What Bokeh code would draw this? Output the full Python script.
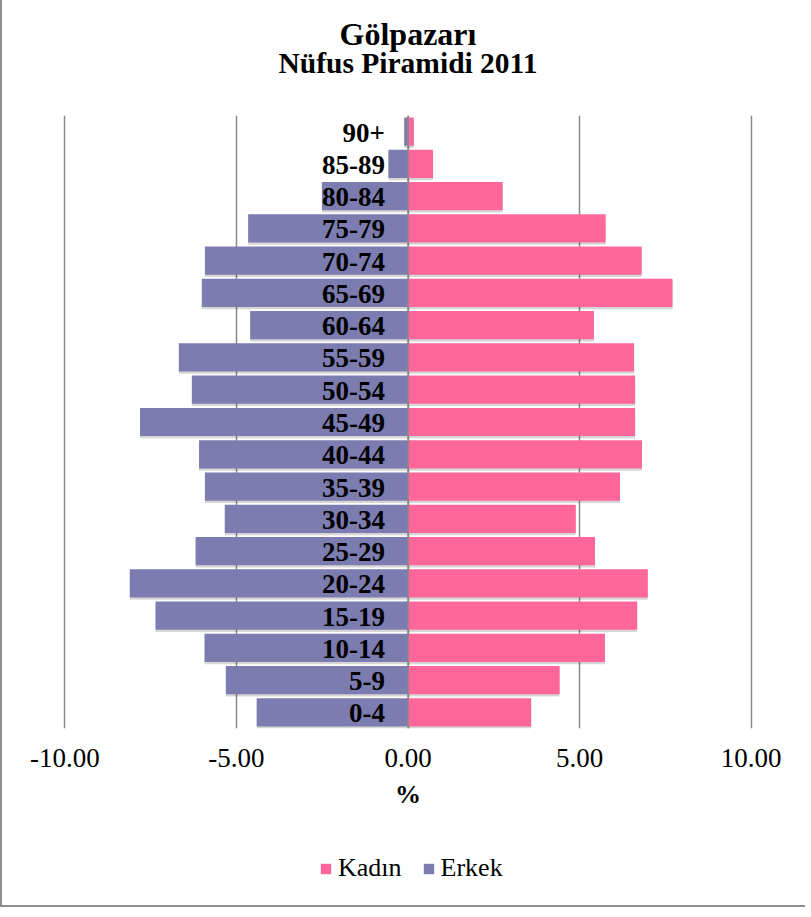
from bokeh.plotting import figure
from bokeh.layouts import column
from bokeh.models import (ColumnDataSource, FactorRange, FixedTicker, PrintfTickFormatter,
                          Span, Title, Legend, LegendItem)
from bokeh.core.properties import value
from bokeh.transform import dodge
from bokeh.embed import file_html
from bokeh.resources import INLINE

# ---- data ----
age_groups = ["0-4", "5-9", "10-14", "15-19", "20-24", "25-29", "30-34", "35-39",
              "40-44", "45-49", "50-54", "55-59", "60-64", "65-69", "70-74",
              "75-79", "80-84", "85-89", "90+"]
erkek = [-4.41, -5.31, -5.93, -7.36, -8.11, -6.19, -5.34, -5.92, -6.09, -7.81,
         -6.30, -6.68, -4.60, -6.01, -5.92, -4.66, -2.51, -0.57, -0.11]
kadin = [3.59, 4.42, 5.74, 6.68, 6.99, 5.45, 4.89, 6.18, 6.82, 6.62,
         6.62, 6.59, 5.42, 7.71, 6.81, 5.76, 2.76, 0.73, 0.17]
x_ticks = [-10, -5, 0, 5, 10]
series_names = ["Kadın", "Erkek"]

title_main = "Gölpazarı"
title_sub = "Nüfus Piramidi 2011"
x_label = "%"

PINK = "#FF6699"
PURPLE = "#7C7CB0"
GRID = "#888888"
FONT = "Liberation Serif"

src = ColumnDataSource(dict(cat=age_groups, erkek=erkek, kadin=kadin))

# ---------------- main pyramid ----------------
p = figure(width=803, height=816, y_range=FactorRange(*age_groups), x_range=(-10.1, 10.1),
           output_backend="svg", toolbar_location=None, title=None,
           min_border_left=59, min_border_right=51, min_border_top=115, min_border_bottom=88)
p.outline_line_color = None
p.background_fill_color = "white"
p.border_fill_color = "white"

# soft drop shadow under the bars
shadow_y = dodge("cat", -0.07, range=p.y_range)
p.hbar(y=shadow_y, left=0, right="erkek", height=0.875, source=src,
       fill_color="black", fill_alpha=0.16, line_color=None)
p.hbar(y=shadow_y, left=0, right="kadin", height=0.875, source=src,
       fill_color="black", fill_alpha=0.16, line_color=None)

r_e = p.hbar(y="cat", left=0, right="erkek", height=0.875, source=src,
             fill_color=PURPLE, line_color=None)
r_k = p.hbar(y="cat", left=0, right="kadin", height=0.875, source=src,
             fill_color=PINK, line_color=None)

p.text(x=0, y="cat", text="cat", source=src, x_offset=-23, y_offset=1,
       text_align="right", text_baseline="middle",
       text_font=value(FONT), text_font_style="bold", text_font_size="27px",
       text_color="black")

p.add_layout(Span(location=0, dimension="height", line_color=GRID, line_width=1.5,
                  level="overlay"))

p.yaxis.visible = False
p.ygrid.grid_line_color = None
p.xgrid.ticker = FixedTicker(ticks=x_ticks)
p.xgrid.grid_line_color = GRID
p.xgrid.grid_line_width = 1.5

xa = p.xaxis[0]
xa.ticker = FixedTicker(ticks=x_ticks)
xa.formatter = PrintfTickFormatter(format="%.2f")
xa.axis_line_color = None
xa.major_tick_line_color = None
xa.minor_tick_line_color = None
xa.major_label_text_font = FONT
xa.major_label_text_font_size = "27px"
xa.major_label_text_color = "black"
xa.major_label_standoff = 14
xa.axis_label = x_label
xa.axis_label_text_font = FONT
xa.axis_label_text_font_size = "26px"
xa.axis_label_text_font_style = "bold"
xa.axis_label_text_color = "black"
xa.axis_label_standoff = 10

# titles: first added sits nearest the plot; a blank spacer keeps them up
p.add_layout(Title(text=" ", text_font_size="10px", standoff=24), "above")
p.add_layout(Title(text=title_sub, align="center", text_font=FONT, text_font_size="29.5px",
                   text_font_style="bold", text_color="black", standoff=0), "above")
p.add_layout(Title(text=title_main, align="center", text_font=FONT, text_font_size="32px",
                   text_font_style="bold", text_color="black", standoff=-14), "above")

# ---------------- legend strip ----------------
# zero-height proxy bars: they carry the series colours for the legend only
lg = figure(width=803, height=89, x_range=(-10.1, 10.1), y_range=FactorRange(*age_groups),
            output_backend="svg", toolbar_location=None, title=None, min_border=0)
lg.axis.visible = False
lg.grid.visible = False
lg.outline_line_color = None
lg.background_fill_alpha = 0
lg.border_fill_alpha = 0
proxy_k = lg.hbar(y="cat", left=0, right="kadin", height=0, source=src,
                  fill_color=PINK, line_color=None)
proxy_e = lg.hbar(y="cat", left=0, right="erkek", height=0, source=src,
                  fill_color=PURPLE, line_color=None)
legend = Legend(items=[LegendItem(label=series_names[0], renderers=[proxy_k]),
                       LegendItem(label=series_names[1], renderers=[proxy_e])],
                orientation="horizontal", location=(258, 22),
                label_text_font=FONT, label_text_font_size="26px", label_text_color="black",
                glyph_width=13, glyph_height=13, label_standoff=6, spacing=20,
                border_line_color=None, background_fill_alpha=0, padding=0, margin=0)
lg.add_layout(legend, "center")

layout = column(p, lg, spacing=0,
                styles={"border-left": "2px solid #8e8e8e",
                        "border-bottom": "2px solid #8e8e8e",
                        "background-color": "white"})

open("out.html", "w").write(file_html(layout, INLINE))
